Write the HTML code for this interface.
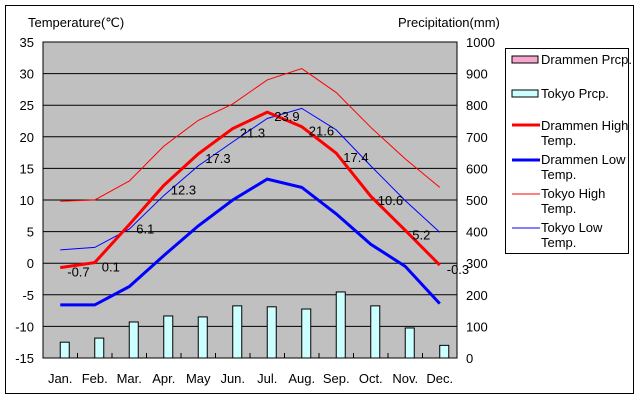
<!DOCTYPE html>
<html><head><meta charset="utf-8"><style>
body{margin:0;background:#fff;}
svg text{font-family:"Liberation Sans",sans-serif;font-size:13px;fill:#000;}
</style></head><body>
<svg width="640" height="400" xmlns="http://www.w3.org/2000/svg">
<rect x="5.5" y="5.5" width="628" height="388" fill="#fff" stroke="#000"/>
<g id="plot"></g>
<text x="28" y="27">Temperature(℃)</text>
<text x="398" y="27">Precipitation(mm)</text>
<g>
<rect x="505.5" y="48.5" width="123" height="205" fill="#fff" stroke="#000"/>
<rect x="512" y="56" width="26" height="7" fill="#f9a6cf" stroke="#000"/>
<text x="541" y="64">Drammen Prcp.</text>
<rect x="512" y="90" width="26" height="7" fill="#ccffff" stroke="#000"/>
<text x="541" y="98">Tokyo Prcp.</text>
<line x1="512" y1="125" x2="540" y2="125" stroke="#f00" stroke-width="3"/>
<text x="541" y="130">Drammen High</text><text x="541" y="145">Temp.</text>
<line x1="512" y1="160" x2="540" y2="160" stroke="#00f" stroke-width="3"/>
<text x="541" y="164">Drammen Low</text><text x="541" y="179">Temp.</text>
<line x1="512" y1="194" x2="540" y2="194" stroke="#f00" stroke-width="1"/>
<text x="541" y="198">Tokyo High</text><text x="541" y="213">Temp.</text>
<line x1="512" y1="228" x2="540" y2="228" stroke="#00f" stroke-width="1"/>
<text x="541" y="232">Tokyo Low</text><text x="541" y="247">Temp.</text>
</g>
</svg>
<script>
const months=["Jan.","Feb.","Mar.","Apr.","May","Jun.","Jul.","Aug.","Sep.","Oct.","Nov.","Dec."];
const drammenHigh=[-0.7,0.1,6.1,12.3,17.3,21.3,23.9,21.6,17.4,10.6,5.2,-0.3];
const drammenLow=[-6.6,-6.6,-3.7,1.2,5.9,10.0,13.3,12.0,7.8,3.0,-0.5,-6.4];
const tokyoHigh=[9.8,10.0,13.0,18.5,22.6,25.2,29.0,30.8,27.0,21.5,16.5,12.0];
const tokyoLow=[2.1,2.5,5.4,10.7,15.4,19.2,22.9,24.5,21.1,15.4,9.9,4.9];
const tokyoPrcp=[50,63,114,133,130,165,162,155,209,165,95,40];
const drammenPrcp=[0,0,0,0,0,0,0,0,0,0,0,0];
const tempTicks=[35,30,25,20,15,10,5,0,-5,-10,-15];
const prcpTicks=[1000,900,800,700,600,500,400,300,200,100,0];

const L=43,R=457,T=42,B=358,NS="http://www.w3.org/2000/svg";
const slot=(R-L)/months.length;
const xc=i=>L+slot*(i+0.5);
const yT=v=>T+(35-v)/50*(B-T);
const yP=v=>B-v/1000*(B-T);
const g=document.getElementById('plot');
function mk(tag,attrs,parent){const e=document.createElementNS(NS,tag);for(const k in attrs)e.setAttribute(k,attrs[k]);(parent||g).appendChild(e);return e;}
const bg=mk('rect',{x:L,y:T,width:R-L,height:B-T,fill:'#c0c0c0',stroke:'#000'});


tempTicks.forEach((t,i)=>{
 const y=yT(t);
 const gl=mk('line',{x1:L,x2:R,y1:y,y2:y,stroke:'#000','stroke-width':1});
 
 
 const tl=mk('text',{x:34,y:y+5,'text-anchor':'end'});tl.textContent=t;
 
 
 const pl=mk('text',{x:466,y:yP(prcpTicks[i])+5});pl.textContent=prcpTicks[i];
 
 
});
months.forEach((m,i)=>{
 if(i>0){const tk=mk('line',{x1:L+slot*i,x2:L+slot*i,y1:B-5,y2:B,stroke:'#000'});}
 const ml=mk('text',{x:xc(i),y:383,'text-anchor':'middle'});ml.textContent=m;
 
 
});
tokyoPrcp.forEach((v,i)=>{
 const b=mk('rect',{x:xc(i),y:yP(v),width:9,height:B-yP(v),fill:'#ccffff',stroke:'#000'});
 
 
});
drammenPrcp.forEach((v,i)=>{
 if(v>0){const b=mk('rect',{x:xc(i)-9,y:yP(v),width:9,height:B-yP(v),fill:'#f9a6cf',stroke:'#000'});
 
 }
});
function line(arr,color,w,name){
 const p=mk('polyline',{points:arr.map((v,i)=>xc(i)+','+yT(v)).join(' '),fill:'none',stroke:color,'stroke-width':w});
 
 
}
line(tokyoHigh,'#f00',1,'tokyo-high-line');
line(tokyoLow,'#00f',1,'tokyo-low-line');
line(drammenLow,'#00f',3,'drammen-low-line');
line(drammenHigh,'#f00',3,'drammen-high-line');
drammenHigh.forEach((v,i)=>{
 const t=mk('text',{x:xc(i)+7,y:yT(v)+9,'font-size':'14'});t.textContent=v;
 
 
});
</script>
</body></html>
